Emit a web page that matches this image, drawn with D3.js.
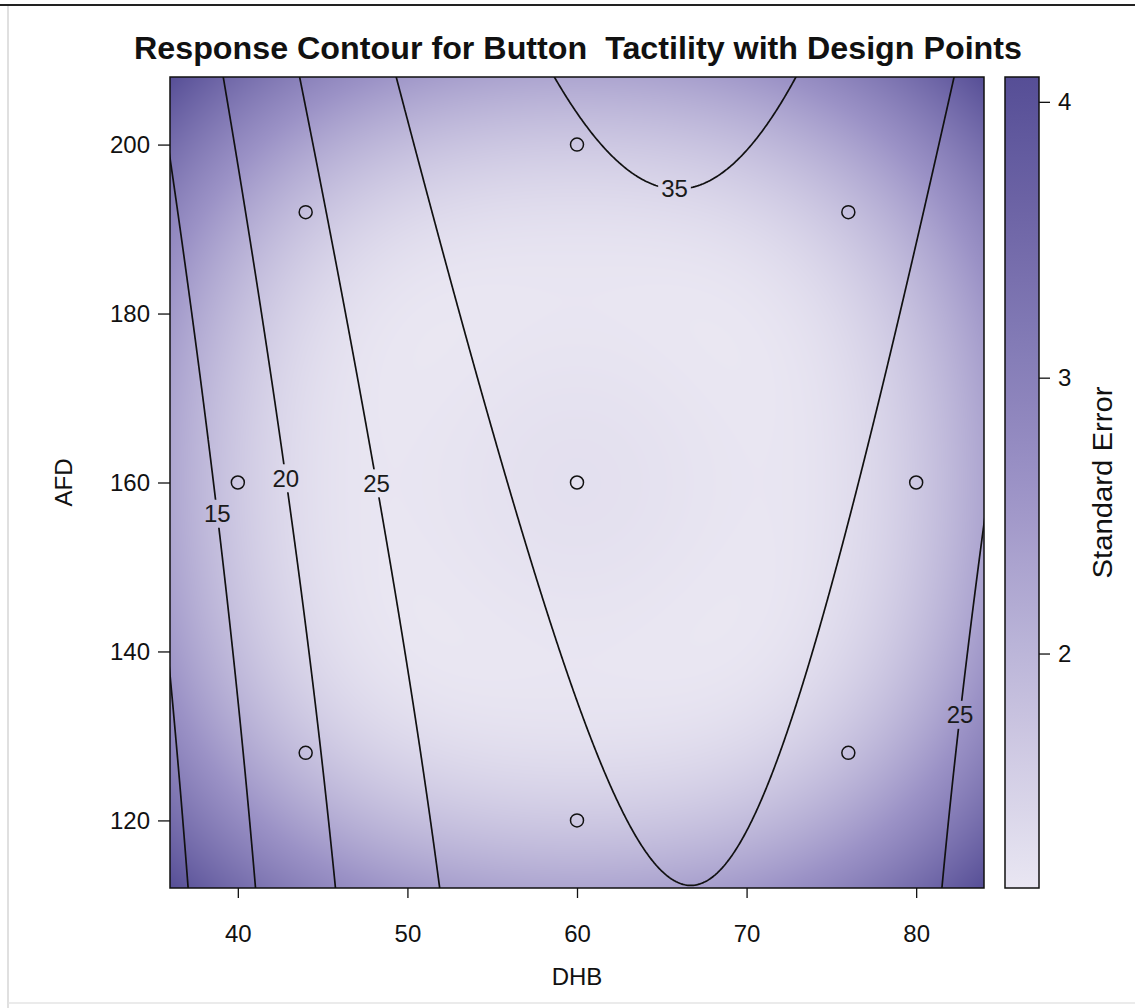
<!DOCTYPE html>
<html>
<head>
<meta charset="utf-8">
<script src="https://cdn.jsdelivr.net/npm/d3@7"></script>
<style>
  html, body { margin: 0; padding: 0; background: #fff; }
  svg { display: block; font-family: "Liberation Sans", Arial, sans-serif; }
</style>
</head>
<body>
<svg id="chart" width="1135" height="1008"></svg>
<script>
// ---- Design points (DHB, AFD) and the number of runs at each ----
const designDHB  = [40, 44, 44, 60, 60, 60, 76, 76, 80];
const designAFD  = [160, 128, 192, 120, 160, 200, 128, 192, 160];
const designRuns = [1, 1, 1, 1, 3, 1, 1, 1, 1];

// ---- Fitted quadratic model for Tactility in coded units ----
// u = (DHB - 60) / 20, v = (AFD - 160) / 40
// terms: 1, u, v, u^2, v^2, u*v
const responseCoef = [31.57, 5.64, 2.68, -9.1, 0.437, -0.35];
const rootMSE = 2.22;

// ---- Contours and their labels ----
const contourLevels = [10, 15, 20, 25, 30, 35];
const labelLevels = [15, 20, 25, 35, 25];
const labelDHB    = [38.8, 42.8, 48.2, 65.8, 82.5];
const labelAFD    = [156.4, 160.5, 160.0, 195.2, 132.5];

// ---- Axes ----
const xTicks = [40, 50, 60, 70, 80];
const yTicks = [120, 140, 160, 180, 200];
const seTicks = [2, 3, 4];
const xDomain = [36, 84];
const yDomain = [112, 208];
const seDomain = [1.15, 4.09];
const seColors = ["#e9e6f2", "#9b92c6", "#564e96"];

const titleText = "Response Contour for Button  Tactility with Design Points";

// ---- Layout ----
const plot = { left: 170, right: 984, top: 77, bottom: 888 };
const bar = { left: 1005, right: 1039 };

const svg = d3.select("#chart");

const x = d3.scaleLinear().domain(xDomain).range([plot.left, plot.right]);
const y = d3.scaleLinear().domain(yDomain).range([plot.bottom, plot.top]);
const seY = d3.scaleLinear().domain(seDomain).range([plot.bottom, plot.top]);
const seColor = d3.scaleLinear()
  .domain([seDomain[0], (seDomain[0] + seDomain[1]) / 2, seDomain[1]])
  .range(seColors)
  .interpolate(d3.interpolateRgb);

const toU = dhb => (dhb - 60) / 20;
const toV = afd => (afd - 160) / 40;
const terms = (u, v) => [1, u, v, u * u, v * v, u * v];

// ---- Least squares pieces: (X'X)^-1 from the design ----
function invert(m) {
  const n = m.length;
  const a = m.map((row, i) => row.concat(d3.range(n).map(j => (i === j ? 1 : 0))));
  for (let c = 0; c < n; c++) {
    let p = c;
    for (let r = c + 1; r < n; r++) if (Math.abs(a[r][c]) > Math.abs(a[p][c])) p = r;
    [a[c], a[p]] = [a[p], a[c]];
    const piv = a[c][c];
    for (let k = 0; k < 2 * n; k++) a[c][k] /= piv;
    for (let r = 0; r < n; r++) {
      if (r === c) continue;
      const f = a[r][c];
      for (let k = 0; k < 2 * n; k++) a[r][k] -= f * a[c][k];
    }
  }
  return a.map(row => row.slice(n));
}

const xtx = d3.range(6).map(() => d3.range(6).map(() => 0));
designDHB.forEach((d, i) => {
  const t = terms(toU(d), toV(designAFD[i]));
  for (let r = 0; r < 6; r++)
    for (let c = 0; c < 6; c++) xtx[r][c] += designRuns[i] * t[r] * t[c];
});
const covUnscaled = invert(xtx);

function stdErr(dhb, afd) {
  const t = terms(toU(dhb), toV(afd));
  let q = 0;
  for (let r = 0; r < 6; r++)
    for (let c = 0; c < 6; c++) q += t[r] * covUnscaled[r][c] * t[c];
  return rootMSE * Math.sqrt(Math.max(q, 0));
}

function predict(dhb, afd) {
  const t = terms(toU(dhb), toV(afd));
  return d3.sum(t, (v, i) => v * responseCoef[i]);
}

// ---- Outer frame of the figure ----
svg.append("line").attr("x1", 0).attr("x2", 1135).attr("y1", 5).attr("y2", 5)
  .attr("stroke", "#222").attr("stroke-width", 2);
svg.append("line").attr("x1", 8).attr("x2", 8).attr("y1", 6).attr("y2", 1008)
  .attr("stroke", "#d6d6d6").attr("stroke-width", 1.5);
svg.append("line").attr("x1", 8).attr("x2", 1135).attr("y1", 1003).attr("y2", 1003)
  .attr("stroke", "#e4e4e4").attr("stroke-width", 1.5);

// ---- Standard error surface (raster) ----
const pw = plot.right - plot.left, ph = plot.bottom - plot.top;
const canvas = document.createElement("canvas");
canvas.width = pw; canvas.height = ph;
const ctx = canvas.getContext("2d");
const img = ctx.createImageData(pw, ph);
for (let j = 0; j < ph; j++) {
  const afd = y.invert(plot.top + j + 0.5);
  for (let i = 0; i < pw; i++) {
    const dhb = x.invert(plot.left + i + 0.5);
    const c = d3.rgb(seColor(stdErr(dhb, afd)));
    const k = 4 * (j * pw + i);
    img.data[k] = c.r; img.data[k + 1] = c.g; img.data[k + 2] = c.b; img.data[k + 3] = 255;
  }
}
ctx.putImageData(img, 0, 0);

const defs = svg.append("defs");
defs.append("clipPath").attr("id", "plot-clip")
  .append("rect").attr("x", plot.left).attr("y", plot.top).attr("width", pw).attr("height", ph);

svg.append("image")
  .attr("x", plot.left).attr("y", plot.top)
  .attr("width", pw).attr("height", ph)
  .attr("preserveAspectRatio", "none")
  .attr("href", canvas.toDataURL());

// ---- Response contours ----
const gx0 = 32, gx1 = 88, gy0 = 104, gy1 = 216, nx = 561, ny = 561;
const gdx = (gx1 - gx0) / (nx - 1), gdy = (gy1 - gy0) / (ny - 1);
const grid = new Array(nx * ny);
for (let j = 0; j < ny; j++)
  for (let i = 0; i < nx; i++)
    grid[j * nx + i] = predict(gx0 + i * gdx, gy0 + j * gdy);

const contours = d3.contours().size([nx, ny]).thresholds(contourLevels)(grid);
const toPx = p => [x(gx0 + p[0] * gdx), y(gy0 + p[1] * gdy)];
const lineGen = d3.line();

const contourPx = contours.map(c => ({
  level: c.value,
  rings: c.coordinates.flatMap(poly => poly.map(ring => ring.map(toPx)))
}));

// labels first so that their extents can cut gaps into the lines
const labelG = svg.append("g").attr("font-size", 24).attr("fill", "#1a1a1a")
  .attr("text-anchor", "middle");
const mask = defs.append("mask").attr("id", "label-gaps")
  .attr("maskUnits", "userSpaceOnUse")
  .attr("x", 0).attr("y", 0).attr("width", 1135).attr("height", 1008);
mask.append("rect").attr("x", 0).attr("y", 0).attr("width", 1135).attr("height", 1008).attr("fill", "#fff");

labelLevels.forEach((lev, k) => {
  const target = [x(labelDHB[k]), y(labelAFD[k])];
  const cp = contourPx.find(c => c.level === lev);
  let best = target, bd = Infinity;
  cp.rings.forEach(r => r.forEach(p => {
    if (p[0] < plot.left || p[0] > plot.right || p[1] < plot.top || p[1] > plot.bottom) return;
    const d = (p[0] - target[0]) ** 2 + (p[1] - target[1]) ** 2;
    if (d < bd) { bd = d; best = p; }
  }));
  const t = labelG.append("text").attr("x", best[0]).attr("y", best[1]).attr("dy", "0.35em").text(lev);
  const w = t.node().getComputedTextLength();
  mask.append("rect")
    .attr("x", best[0] - w / 2 - 3).attr("y", best[1] - 14)
    .attr("width", w + 6).attr("height", 28).attr("fill", "#000");
});

svg.insert("g", "g")
  .attr("clip-path", "url(#plot-clip)")
  .append("g").attr("mask", "url(#label-gaps)")
  .selectAll("path").data(contourPx).join("path")
  .attr("d", c => c.rings.map(r => lineGen(r)).join(""))
  .attr("fill", "none").attr("stroke", "#111").attr("stroke-width", 1.7)
  .attr("stroke-linejoin", "round");

// ---- Design points ----
svg.append("g").selectAll("circle").data(designDHB).join("circle")
  .attr("cx", d => x(d)).attr("cy", (d, i) => y(designAFD[i]))
  .attr("r", 6.5).attr("fill", "none").attr("stroke", "#111").attr("stroke-width", 1.5);

// ---- Plot frame ----
svg.append("rect").attr("x", plot.left).attr("y", plot.top).attr("width", pw).attr("height", ph)
  .attr("fill", "none").attr("stroke", "#111").attr("stroke-width", 1.5);

// ---- Axes ----
const styleAxis = g => {
  g.select(".domain").remove();
  g.selectAll(".tick line").attr("stroke", "#111").attr("stroke-width", 1.3);
  g.selectAll(".tick text").attr("fill", "#111").attr("font-size", 24)
    .attr("font-family", "Liberation Sans, Arial, sans-serif");
};

svg.append("g").attr("transform", `translate(0,${plot.bottom})`)
  .call(d3.axisBottom(x).tickValues(xTicks).tickSize(10).tickPadding(27).tickFormat(d3.format("d")))
  .call(styleAxis);

svg.append("g").attr("transform", `translate(${plot.left},0)`)
  .call(d3.axisLeft(y).tickValues(yTicks).tickSize(12).tickPadding(8).tickFormat(d3.format("d")))
  .call(styleAxis);

svg.append("text").attr("x", x(60)).attr("y", 985).attr("text-anchor", "middle")
  .attr("font-size", 24).attr("fill", "#111").text("DHB");
svg.append("text").attr("transform", `translate(72,${(plot.top + plot.bottom) / 2}) rotate(-90)`)
  .attr("text-anchor", "middle").attr("font-size", 24).attr("fill", "#111").text("AFD");

// ---- Colour bar ----
const grad = defs.append("linearGradient").attr("id", "se-grad")
  .attr("x1", 0).attr("x2", 0).attr("y1", 1).attr("y2", 0);
d3.range(0, 1.0001, 0.05).forEach(t => {
  const v = seDomain[0] + t * (seDomain[1] - seDomain[0]);
  grad.append("stop").attr("offset", t).attr("stop-color", seColor(v));
});
svg.append("rect").attr("x", bar.left).attr("y", plot.top)
  .attr("width", bar.right - bar.left).attr("height", ph)
  .attr("fill", "url(#se-grad)").attr("stroke", "#111").attr("stroke-width", 1.5);

svg.append("g").attr("transform", `translate(${bar.right},0)`)
  .call(d3.axisRight(seY).tickValues(seTicks).tickSize(11).tickPadding(8).tickFormat(d3.format("d")))
  .call(styleAxis);

svg.append("text").attr("transform", `translate(1112,${(plot.top + plot.bottom) / 2}) rotate(-90)`)
  .attr("text-anchor", "middle").attr("font-size", 27).attr("fill", "#111")
  .attr("textLength", 192).attr("lengthAdjust", "spacingAndGlyphs")
  .text("Standard Error");

// ---- Title ----
svg.append("text").attr("x", 578).attr("y", 59).attr("text-anchor", "middle")
  .attr("font-size", 31).attr("font-weight", "bold").attr("fill", "#111")
  .attr("textLength", 888).attr("lengthAdjust", "spacingAndGlyphs")
  .style("white-space", "pre").text(titleText);
</script>
</body>
</html>
